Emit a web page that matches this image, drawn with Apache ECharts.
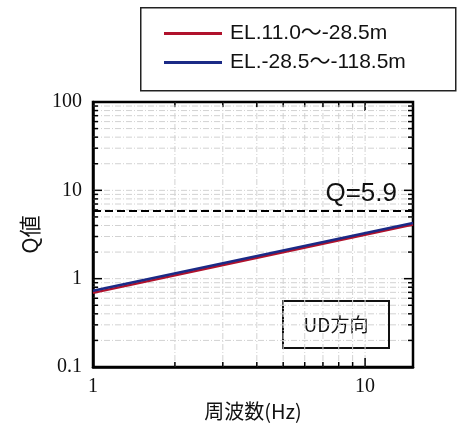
<!DOCTYPE html>
<html>
<head>
<meta charset="utf-8">
<script src="https://cdn.jsdelivr.net/npm/echarts@6/dist/echarts.min.js"></script>
<style>
  html, body { margin: 0; padding: 0; background: #fff; }
  #chart { width: 457px; height: 430px; }
</style>
</head>
<body>
<div id="chart"></div>
<script>
// Frequency range and Q values (power law, straight on log-log axes)
const freqHz = [1, 15];
const qUpper = [0.69, 4.1];   // EL.11.0～-28.5m
const qLower = [0.73, 4.27];  // EL.-28.5～-118.5m
const seriesNames = ['EL.11.0～-28.5m', 'EL.-28.5～-118.5m'];
const qLimit = 5.9;

// Axis ranges, labelled decades and minor grid/tick positions
const xRange = [1, 15];
const yRange = [0.1, 100];
const xGrid = [2, 3, 4, 5, 6, 7, 8, 9, 10];
const yGrid = [0.2, 0.3, 0.4, 0.5, 0.6, 0.7, 0.8, 0.9, 1,
               2, 3, 4, 5, 6, 7, 8, 9, 10,
               20, 30, 40, 50, 60, 70, 80, 90];
const yMajor = [1, 10];
const xMajor = [10];

const chart = echarts.init(document.getElementById('chart'), null, { renderer: 'canvas' });

const gridStyle = { stroke: '#d2d2d2', lineWidth: 1, lineDash: [6, 2, 1, 2] };

function xGridItem(params, api) {
  const cs = params.coordSys;
  const v = api.value(0);
  const x = api.coord([v, 1])[0];
  const len = xMajor.indexOf(v) >= 0 ? 9 : 5;
  return {
    type: 'group',
    children: [
      { type: 'line', shape: { x1: x, y1: cs.y, x2: x, y2: cs.y + cs.height }, style: gridStyle },
      { type: 'line', shape: { x1: x, y1: cs.y + cs.height, x2: x, y2: cs.y + cs.height - len }, style: { stroke: '#000', lineWidth: 1.5 } },
      { type: 'line', shape: { x1: x, y1: cs.y, x2: x, y2: cs.y + len }, style: { stroke: '#000', lineWidth: 1.5 } }
    ]
  };
}

function yGridItem(params, api) {
  const cs = params.coordSys;
  const v = api.value(1);
  const y = api.coord([1, v])[1];
  const len = yMajor.indexOf(v) >= 0 ? 9 : 5;
  return {
    type: 'group',
    children: [
      { type: 'line', shape: { x1: cs.x, y1: y, x2: cs.x + cs.width, y2: y }, style: gridStyle },
      { type: 'line', shape: { x1: cs.x, y1: y, x2: cs.x + len, y2: y }, style: { stroke: '#000', lineWidth: 1.5 } },
      { type: 'line', shape: { x1: cs.x + cs.width, y1: y, x2: cs.x + cs.width - len, y2: y }, style: { stroke: '#000', lineWidth: 1.5 } }
    ]
  };
}

const labelFont = { fontFamily: 'Liberation Serif', fontSize: 20, color: '#111' };

chart.setOption({
  animation: false,
  backgroundColor: '#fff',
  grid: {
    left: 93, top: 102, right: 44, bottom: 63,
    show: true, borderColor: '#000', borderWidth: 2.5, backgroundColor: 'transparent'
  },
  legend: {
    data: seriesNames,
    orient: 'vertical',
    left: 159, top: 18,
    itemWidth: 58, itemHeight: 3, itemGap: 8,
    icon: 'rect',
    textStyle: { fontFamily: 'Liberation Sans, Noto Sans CJK JP', fontSize: 21, color: '#111', padding: [0, 0, 0, 3] }
  },
  xAxis: {
    type: 'log', logBase: 10, min: xRange[0], max: xRange[1],
    name: '周波数(Hz)', nameLocation: 'middle', nameGap: 33,
    nameTextStyle: { fontFamily: 'Noto Sans CJK JP', fontSize: 20, color: '#111' },
    axisLine: { show: true, onZero: false, lineStyle: { color: '#000', width: 2.5 } },
    axisTick: { show: false },
    splitLine: { show: false },
    axisLabel: Object.assign({ margin: 10, showMaxLabel: false, formatter: v => String(v) }, labelFont)
  },
  yAxis: {
    type: 'log', logBase: 10, min: yRange[0], max: yRange[1],
    name: 'Q値', nameLocation: 'middle', nameGap: 52, nameRotate: 90,
    nameTextStyle: { fontFamily: 'Noto Sans CJK JP', fontSize: 22, color: '#111' },
    axisLine: { show: true, onZero: false, lineStyle: { color: '#000', width: 2.5 } },
    axisTick: { show: false },
    splitLine: { show: false },
    axisLabel: Object.assign({ margin: 11, formatter: v => String(v) }, labelFont)
  },
  series: [
    {
      type: 'custom', silent: true, renderItem: xGridItem, z: 1,
      data: xGrid.map(v => [v, 1]), clip: true
    },
    {
      type: 'custom', silent: true, renderItem: yGridItem, z: 1,
      data: yGrid.map(v => [1, v]), clip: true
    },
    {
      name: seriesNames[0], type: 'line', z: 3,
      data: freqHz.map((f, i) => [f, qUpper[i]]),
      showSymbol: false, color: '#b0122c',
      lineStyle: { width: 2.5, color: '#b0122c' },
      markLine: {
        silent: true, symbol: 'none',
        lineStyle: { type: [8, 4], color: '#000', width: 2 },
        label: {
          position: 'insideEndTop', distance: [16, 4], formatter: 'Q={c}',
          fontFamily: 'Liberation Sans', fontSize: 26, color: '#111'
        },
        data: [{ yAxis: qLimit }]
      }
    },
    {
      name: seriesNames[1], type: 'line', z: 4,
      data: freqHz.map((f, i) => [f, qLower[i]]),
      showSymbol: false, color: '#1b2a86',
      lineStyle: { width: 2.5, color: '#1b2a86' }
    }
  ],
  graphic: [
    {
      type: 'rect', left: 140, top: 7, z: -1,
      shape: { width: 315, height: 83 },
      style: { fill: '#fff', stroke: '#222', lineWidth: 1.5 }
    },
    {
      type: 'group', left: 282, top: 300, z: 10,
      children: [
        {
          type: 'rect',
          shape: { x: 0, y: 0, width: 106, height: 47 },
          style: { fill: '#fff', stroke: '#111', lineWidth: 2 }
        },
        {
          type: 'text', x: 53, y: 24,
          style: {
            text: 'UD方向', align: 'center', verticalAlign: 'middle',
            fontSize: 19, fontFamily: 'Noto Sans CJK JP', fill: '#111'
          }
        }
      ]
    }
  ]
});
</script>
</body>
</html>
